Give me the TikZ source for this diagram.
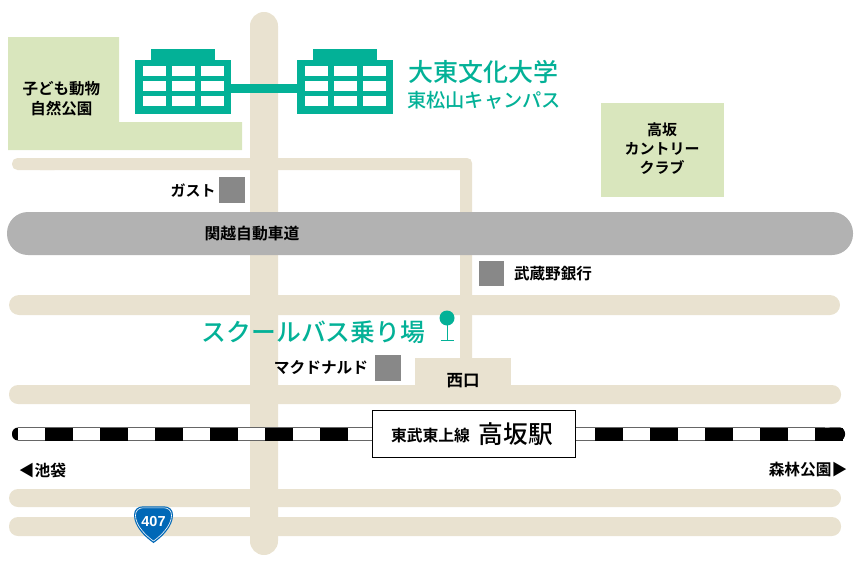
\documentclass[tikz,border=0pt]{standalone}
\usepackage{fontspec}
\setmainfont{Noto Sans CJK JP}
\newfontfamily\jpm{Noto Sans CJK JP Medium}
\newfontfamily\jpb{Noto Sans CJK JP Bold}
\definecolor{roadc}{HTML}{E9E2D0}
\definecolor{parkc}{HTML}{D9E6BD}
\definecolor{tealc}{HTML}{03B197}
\definecolor{shopc}{HTML}{888888}
\definecolor{wayc}{HTML}{B2B2B2}
\definecolor{shieldc}{HTML}{0068B7}
\tikzset{
  x=1pt,y=-1pt,
  road/.style={fill=roadc,draw=none,rounded corners=#1},
  road/.default=6pt,
  park/.style={fill=parkc,draw=none},
  teal/.style={fill=tealc,draw=none},
  win/.style={fill=white,draw=none},
  shop/.style={fill=shopc,draw=none},
  lab/.style={inner sep=0pt,align=center,text=black,font=\jpb\fontsize{#1}{#1}\selectfont},
  labm/.style={inner sep=0pt,align=center,text=black,font=\jpm\fontsize{#1}{#1}\selectfont},
  labt/.style={inner sep=0pt,align=center,text=tealc,font=\jpm\fontsize{#1}{#1}\selectfont},
}
\newcommand{\building}[1]{%
  \begin{scope}[shift={(#1,0)}]
    \fill[teal] (16,49) rectangle (80,60);
    \fill[teal] (0,60) rectangle (96,114);
    \foreach \cx in {8,37,66}
      \foreach \cy in {66,81,96}
        \fill[win] (\cx,\cy) rectangle ++(22.5,10);
  \end{scope}}
\begin{document}
\begin{tikzpicture}
\useasboundingbox (0,0) rectangle (857,565);
% parks
\fill[park] (8,37) -- (119,37) -- (119,122) -- (242,122) -- (242,150) -- (8,150) -- cycle;
\fill[park] (601,103) rectangle (724,197);
% roads
\fill[road=5.5pt] (12,158) rectangle (60,170);
\fill[roadc] (40,158) -- (467,158) .. controls (470,158) and (472,160) .. (472,163) -- (472,365) -- (460,365) -- (460,170) -- (40,170) -- cycle;
\fill[road=10pt] (9,295) rectangle (840,315);
\fill[road=9pt] (9,385) rectangle (841,404);
\fill[road=9pt] (9,489) rectangle (841,507);
\fill[road=9pt] (9,517) rectangle (841,536);
\fill[roadc] (415,358) rectangle (511,392);
\fill[road=13.9pt] (250,12) rectangle (278,555);
% expressway
\fill[wayc,rounded corners=21pt] (7,212) rectangle (853,255);
% buildings
\fill[teal] (231,84) rectangle (297,93);
\building{135}
\building{297}
% shops
\fill[shop] (219,177) rectangle (245,203);
\fill[shop] (479,261) rectangle (504,286);
\fill[shop] (375,355) rectangle (401,381);
% railway
\fill[black,rounded corners=6pt] (12,427.5) rectangle (30,440.5);
\fill[black,rounded corners=6pt] (825,427.5) rectangle (845,440.5);
\fill[white] (18,428) rectangle (825,440);
\draw[black!60,line width=0.9pt] (18,427.9) -- (825,427.9) (18,440.1) -- (825,440.1);
\foreach \k in {0,...,14}
  \fill[black] ({45+55*\k},427.5) rectangle ++(27.5,13);
\fill[black] (840,427.5) -- (825,427.5) -- (825,440.5) -- (840,440.5) .. controls (843,440.5) and (845,437) .. (845,434) .. controls (845,431) and (843,427.5) .. (840,427.5) -- cycle;
\node[draw=black,line width=1pt,fill=white,minimum width=203pt,minimum height=47pt,inner sep=0pt] (station) at (473.5,434) {};
% pin
\fill[teal] (447,318) circle[radius=7.5];
\draw[tealc,line width=1pt] (447,320) -- (447,340);
\draw[tealc,line width=1pt] (440.5,340.5) -- (453.5,340.5);
% shield
\path[fill=shieldc,draw=none] (153.5,543) .. controls (146,538) and (134,527) .. (134,515) .. controls (134,509) and (138,506.5) .. (143,506.3) -- (164,506.3) .. controls (169,506.5) and (173,509) .. (173,515) .. controls (173,527) and (161,538) .. (153.5,543) -- cycle;
\path[draw=white,line width=0.6pt] (153.5,541) .. controls (147,536.5) and (135.5,526) .. (135.5,515.5) .. controls (135.5,510) and (139,508) .. (143,507.8) -- (164,507.8) .. controls (168,508) and (171.5,510) .. (171.5,515.5) .. controls (171.5,526) and (160,536.5) .. (153.5,541) -- cycle;
\node[inner sep=0pt,text=white,font={\fontspec{Liberation Sans}\bfseries\fontsize{14.5}{14.5}\selectfont}] (n407) at (153.5,522) {407};
% labels
\node[lab=15.5] (zoo) at (61.5,98.5) {子ども動物\\[4.5pt]自然公園};
\node[lab=15] (gust) at (193,190.5) {ガスト};
\node[lab=15.8] (kanetsu) at (252,233.5) {関越自動車道};
\node[lab=15] (country) at (662,148.5) {高坂\\[4pt]カントリー\\[4pt]クラブ};
\node[lab=15.6] (musashino) at (553,273.5) {武蔵野銀行};
\node[lab=15.7] (mc) at (321,367.5) {マクドナルド};
\node[lab=16.5] (west) at (463,380.5) {西口};
\node[lab=15.8] (line) at (430.5,435.5) {東武東上線};
\node[labm=24.7] (takasaka) at (516,434.5) {高坂駅};
\node[lab=15.7] (ike) at (42.5,470.5) {◀池袋};
\node[lab=15.7] (shinrin) at (808,469.5) {森林公園▶};
\node[labt=25] (univ) at (483.5,71.5) {大東文化大学};
\node[labt=19.2] (campus) at (484,100.5) {東松山キャンパス};
\node[labt=24.8] (bus) at (313.5,332.5) {スクールバス乗り場};
\end{tikzpicture}
\end{document}
